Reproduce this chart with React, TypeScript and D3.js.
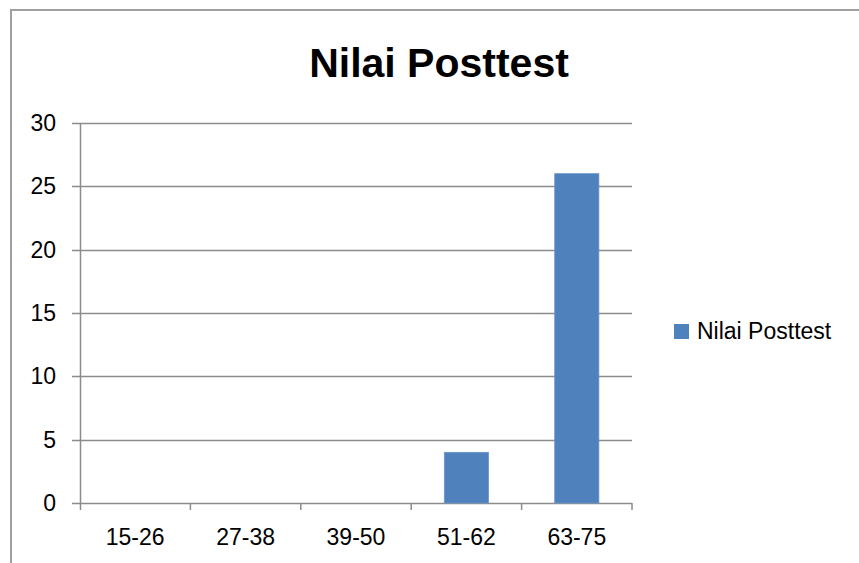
import React from "react";
import * as d3 from "d3";

const categories = ["15-26", "27-38", "39-50", "51-62", "63-75"];
const values = [0, 0, 0, 4, 26];
const yTicks = [0, 5, 10, 15, 20, 25, 30];
const seriesName = "Nilai Posttest";
const title = "Nilai Posttest";

export default function App() {
  const W = 859, H = 563;
  const left = 80, right = 632, top = 123, bottom = 503;
  const xb = d3.scaleBand<string>().domain(categories).range([left, right]);
  const y = d3.scaleLinear().domain([0, 30]).range([bottom, top]);
  const font = "'Liberation Sans', Arial, sans-serif";
  const gray = "#8c8c8c";
  return (
    <svg width={W} height={H} style={{ position: "absolute", left: 0, top: 0, background: "#fff" }} fontFamily={font}>
      <path d={`M11,${H} L11,10 L${W},10`} fill="none" stroke="#a0a0a0" strokeWidth={2} />
      <text x={439} y={77} textAnchor="middle" fontSize={41} fontWeight="bold" fill="#000">{title}</text>
      {yTicks.map((t) => (
        <g key={t}>
          <line x1={left - 8} x2={right} y1={Math.round(y(t)) + 0.5} y2={Math.round(y(t)) + 0.5} stroke={gray} strokeWidth={1.5} />
          <text x={56} y={y(t)} dy="0.35em" textAnchor="end" fontSize={23} fill="#000">{t}</text>
        </g>
      ))}
      <line x1={left + 0.5} x2={left + 0.5} y1={top} y2={bottom + 7} stroke={gray} strokeWidth={1.5} />
      {categories.map((c, i) => (
        <g key={c}>
          <line x1={(xb(c) as number) + xb.bandwidth()} x2={(xb(c) as number) + xb.bandwidth()} y1={bottom} y2={bottom + 7} stroke={gray} strokeWidth={1.5} />
          <text x={(xb(c) as number) + xb.bandwidth() / 2} y={545} textAnchor="middle" fontSize={23} fill="#000">{c}</text>
          {values[i] > 0 && (
            <rect x={xb(c)! + xb.bandwidth() * 0.3} width={xb.bandwidth() * 0.4} y={y(values[i])} height={y(0) - y(values[i])} fill="#4F81BD" stroke="#6a96cc" strokeWidth={0.8} />
          )}
        </g>
      ))}
      <rect x={674} y={324} width={15} height={15} fill="#4F81BD" />
      <text x={697} y={339} fontSize={23} fill="#000">{seriesName}</text>
    </svg>
  );
}
